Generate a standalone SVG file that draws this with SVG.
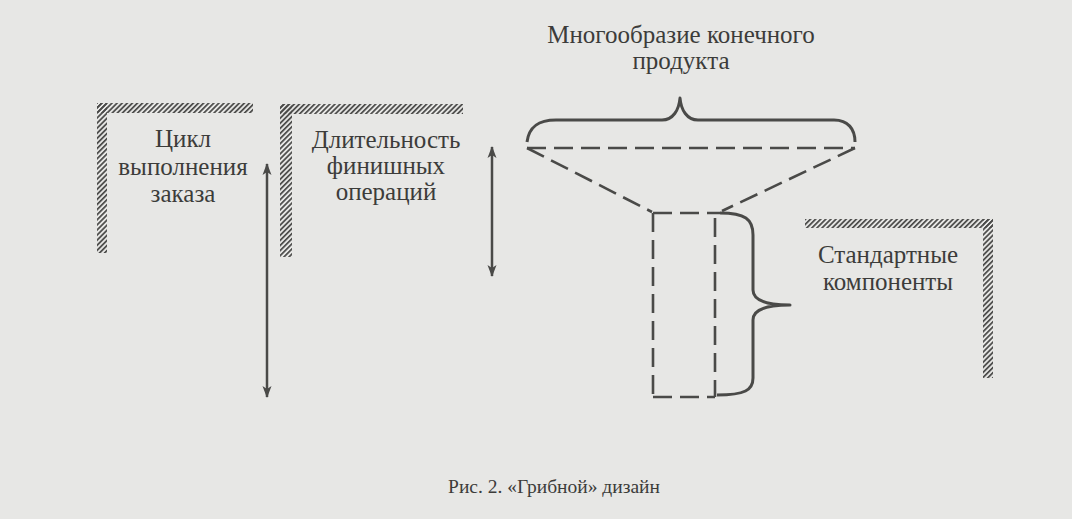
<svg xmlns="http://www.w3.org/2000/svg" width="1072" height="519" viewBox="0 0 1072 519">
  <defs>
    <pattern id="hatch" width="3.6" height="3.6" patternUnits="userSpaceOnUse" patternTransform="rotate(45)">
      <rect width="1.7" height="3.6" fill="#4a4a48"/>
    </pattern>
    <marker id="ah" viewBox="0 0 12 10" refX="11" refY="5" markerWidth="12" markerHeight="10" markerUnits="userSpaceOnUse" orient="auto-start-reverse">
      <path d="M0,0.5 L12,5 L0,9.5 L3,5 Z" fill="#4a4a48"/>
    </marker>
    <style>
      .t { font-family: "Liberation Serif", "Times New Roman", serif; font-size: 25px; fill: #3c3c3a; text-anchor: middle; }
      .cap { font-size: 19.5px; }
      .hatch { fill: url(#hatch); }
      .arr { stroke: #4a4a48; stroke-width: 2.5; fill: none; marker-start: url(#ah); marker-end: url(#ah); }
      .brace { stroke: #4a4a48; stroke-width: 3; fill: none; stroke-linejoin: round; }
      .dash { stroke: #4a4a48; stroke-width: 2.6; fill: none; stroke-dasharray: 19 8; }
    </style>
  </defs>
  <rect x="0" y="0" width="1072" height="519" fill="#e7e7e5"/>

  <g id="cycle">
    <rect class="hatch" x="97" y="103" width="156" height="10"/>
    <rect class="hatch" x="97" y="103" width="10" height="150"/>
    <text class="t" x="183" y="147">Цикл</text>
    <text class="t" x="183" y="175">выполнения</text>
    <text class="t" x="183" y="202">заказа</text>
  </g>

  <g id="finishing">
    <rect class="hatch" x="280" y="104" width="183" height="10"/>
    <rect class="hatch" x="280" y="104" width="12" height="153"/>
    <text class="t" x="386" y="148">Длительность</text>
    <text class="t" x="386" y="174">финишных</text>
    <text class="t" x="386" y="200">операций</text>
  </g>

  <g id="variety">
    <text class="t" x="681" y="43">Многообразие конечного</text>
    <text class="t" x="681" y="69">продукта</text>
  </g>

  <g id="standard">
    <rect class="hatch" x="805" y="219" width="188" height="9"/>
    <rect class="hatch" x="983" y="219" width="10" height="159"/>
    <text class="t" x="888" y="263">Стандартные</text>
    <text class="t" x="888" y="290">компоненты</text>
  </g>

  <g id="connectors">
    <line class="arr" x1="267" y1="164" x2="267" y2="397"/>
    <line class="arr" x1="492" y1="147" x2="492" y2="276"/>
    <path class="brace" d="M527,142 C529,127 538,120 556,120 L662,120 C673,120 679,110 680,98 C681,110 687,120 698,120 L834,120 C848,120 855,129 855,142"/>
    <path class="dash" d="M527,148 L855,148"/>
    <path class="dash" d="M527,148 L652,212"/>
    <path class="dash" d="M855,148 L722,211"/>
    <path class="dash" d="M653,213 L720,213"/>
    <path class="dash" d="M653,213 L653,397"/>
    <path class="dash" d="M715,218 L715,397"/>
    <path class="dash" d="M653,397 L715,397"/>
    <path class="brace" d="M720,213 C745,213 753,219 753,235 L753,290 C753,300 764,305 790,305 C764,305 753,310 753,320 L753,378 C753,390 745,395 717,395"/>
  </g>

  <g id="caption">
    <text class="t cap" x="554" y="493">Рис. 2. «Грибной» дизайн</text>
  </g>
</svg>
